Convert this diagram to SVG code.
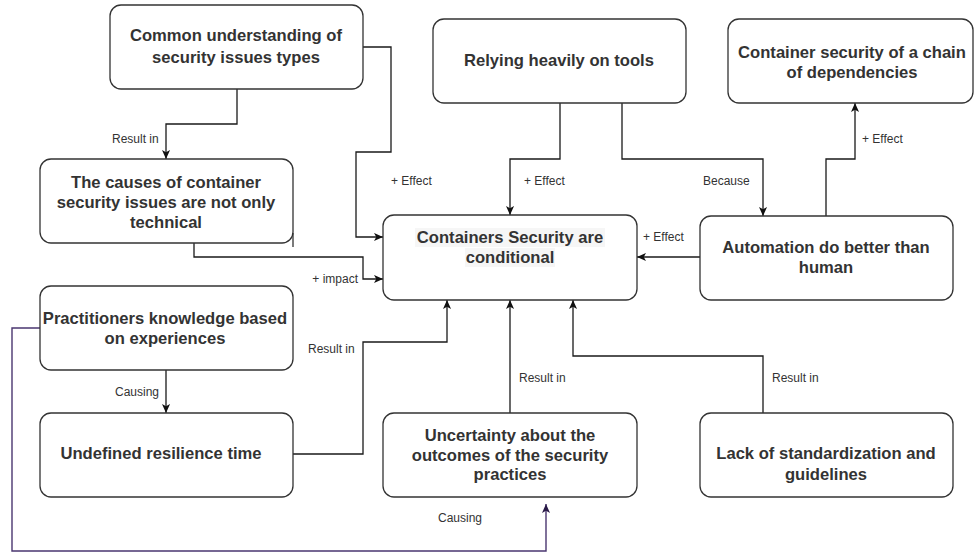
<svg xmlns="http://www.w3.org/2000/svg" width="974" height="554" viewBox="0 0 974 554">
<style>
  .box { fill: #ffffff; stroke: #333333; stroke-width: 1.3; }
  .t { font-family: "Liberation Sans", Arial, sans-serif; font-size: 16.6px; font-weight: bold; fill: #333333; text-anchor: middle; }
  .lbl { font-family: "Liberation Sans", Arial, sans-serif; font-size: 12px; fill: #333333; }
  .c { fill: none; stroke: #1a1a1a; stroke-width: 1.3; marker-end: url(#arr); }
  .cp { fill: none; stroke: #4a3670; stroke-width: 1.4; marker-end: url(#arrp); }
</style>
<defs>
  <marker id="arr" viewBox="0 0 10 10" refX="10" refY="5" markerWidth="9" markerHeight="9" markerUnits="userSpaceOnUse" orient="auto">
    <path d="M0,0.5 L10,5 L0,9.5 L2.5,5 z" fill="#111111"/>
  </marker>
  <marker id="arrp" viewBox="0 0 10 10" refX="10" refY="5" markerWidth="9" markerHeight="9" markerUnits="userSpaceOnUse" orient="auto">
    <path d="M0,0.5 L10,5 L0,9.5 L2.5,5 z" fill="#2a1a48"/>
  </marker>
</defs>
<rect width="974" height="554" fill="#ffffff"/>

<g id="connectors">
  <path class="c" d="M237,89 V124 H166 V159"/>
  <path class="c" d="M363,47 H391 V152 H356 V237 H383"/>
  <path class="c" d="M194,243 V257 H363 V279 H383"/>
  <path class="c" d="M560,103 V159 H510 V215"/>
  <path class="c" d="M622,103 V159 H763 V216"/>
  <path class="c" d="M826,216 V159 H855 V103"/>
  <path class="c" d="M700,257 H637"/>
  <path class="c" d="M293,454 H363 V342 H447 V300"/>
  <path class="c" d="M510,413 V300"/>
  <path class="c" d="M763,413 V356 H573 V300"/>
  <path class="c" d="M166,370 V413"/>
  <path class="cp" d="M40,328 H12 V551 H546 V504"/>
  <text class="lbl" x="112" y="143">Result in</text>
  <text class="lbl" x="391" y="185">+ Effect</text>
  <text class="lbl" x="524" y="185">+ Effect</text>
  <text class="lbl" x="703" y="185">Because</text>
  <text class="lbl" x="862" y="143">+ Effect</text>
  <text class="lbl" x="643" y="241">+ Effect</text>
  <text class="lbl" x="358" y="283" text-anchor="end">+ impact</text>
  <text class="lbl" x="308" y="353">Result in</text>
  <text class="lbl" x="115" y="396">Causing</text>
  <text class="lbl" x="519" y="382">Result in</text>
  <text class="lbl" x="772" y="382">Result in</text>
  <text class="lbl" x="438" y="522">Causing</text>
</g>

<g id="n-common">
  <rect class="box" x="110" y="5" width="253" height="84" rx="11"/>
  <text class="t" x="236" y="41">Common understanding of</text>
  <text class="t" x="236" y="63">security issues types</text>
</g>

<g id="n-causes">
  <rect class="box" x="40" y="159" width="253" height="84" rx="11"/>
  <path d="M293,233 V247" stroke="#333333" stroke-width="1.3"/>
  <text class="t" x="166" y="188">The causes of container</text>
  <text class="t" x="166" y="208">security issues  are not only</text>
  <text class="t" x="166" y="228">technical</text>
</g>

<g id="n-relying">
  <rect class="box" x="433" y="19" width="253" height="84" rx="11"/>
  <text class="t" x="559" y="66">Relying heavily on tools</text>
</g>

<g id="n-chain">
  <rect class="box" x="728" y="19" width="245" height="84" rx="11"/>
  <text class="t" x="852" y="58">Container security of a chain</text>
  <text class="t" x="852" y="78">of dependencies</text>
</g>

<g id="n-containers">
  <rect class="box" x="383" y="215" width="254" height="85" rx="11"/>
  <rect x="415" y="228" width="190" height="19" fill="#f6f6f6"/>
  <rect x="465" y="248" width="90" height="19" fill="#f6f6f6"/>
  <text class="t" x="510" y="243">Containers Security are</text>
  <text class="t" x="510" y="263">conditional</text>
</g>

<g id="n-automation">
  <rect class="box" x="700" y="216" width="253" height="84" rx="11"/>
  <text class="t" x="826" y="253">Automation do better than</text>
  <text class="t" x="826" y="273">human</text>
</g>

<g id="n-practitioners">
  <rect class="box" x="40" y="286" width="253" height="84" rx="11"/>
  <text class="t" x="165" y="324">Practitioners knowledge based</text>
  <text class="t" x="165" y="344">on experiences</text>
</g>

<g id="n-undefined">
  <rect class="box" x="40" y="413" width="253" height="84" rx="11"/>
  <text class="t" x="161" y="459">Undefined resilience time</text>
</g>

<g id="n-uncertainty">
  <rect class="box" x="383" y="413" width="254" height="84" rx="11"/>
  <text class="t" x="510" y="441">Uncertainty about the</text>
  <text class="t" x="510" y="461">outcomes of the security</text>
  <text class="t" x="510" y="480">practices</text>
</g>

<g id="n-lack">
  <rect class="box" x="700" y="413" width="253" height="84" rx="11"/>
  <text class="t" x="826" y="459">Lack of standardization and</text>
  <text class="t" x="826" y="480">guidelines</text>
</g>
</svg>
